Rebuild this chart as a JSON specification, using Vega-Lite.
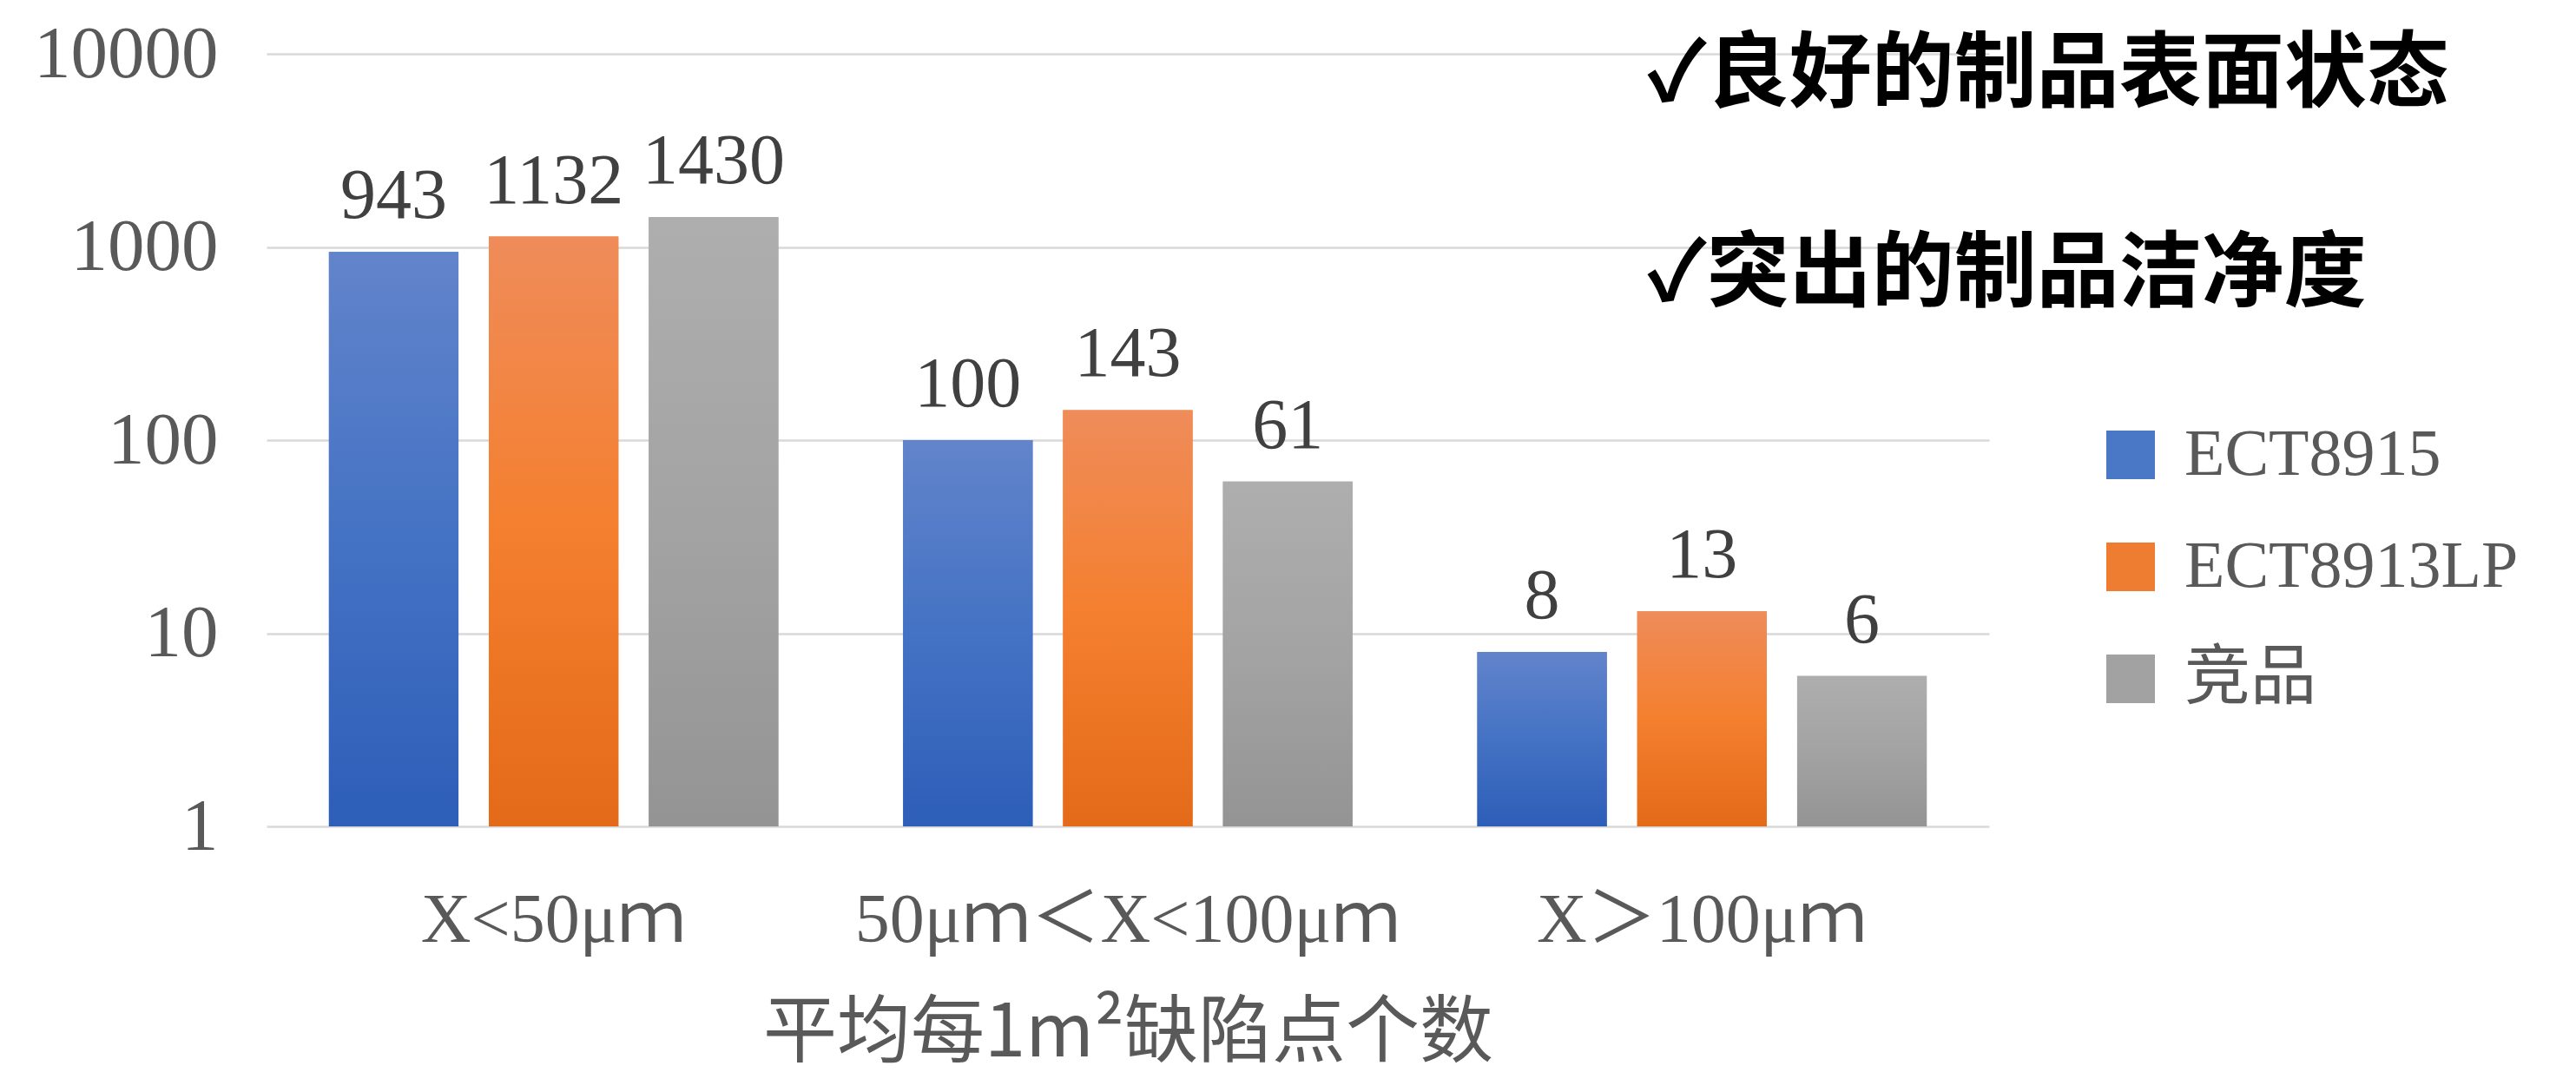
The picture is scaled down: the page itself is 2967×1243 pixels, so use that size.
{
  "$schema": "https://vega.github.io/schema/vega-lite/v6.json",
  "width": 1984,
  "height": 890,
  "autosize": {"type": "none"},
  "padding": {"left": 307, "top": 62, "right": 676, "bottom": 291},
  "background": "white",
  "config": {"view": {"stroke": null}},
  "title": {
    "text": ["✓良好的制品表面状态", "✓突出的制品洁净度"],
    "font": "Noto Sans CJK SC",
    "fontSize": 95,
    "fontWeight": "bold",
    "color": "#000000",
    "lineHeight": 230,
    "frame": "group",
    "anchor": "start",
    "orient": "top",
    "baseline": "top",
    "offset": 0,
    "limit": 0,
    "dx": 1590,
    "dy": 346
  },
  "data": {
    "values": [
      {"size": "X<50μｍ", "product": "ECT8915", "count": 943},
      {"size": "X<50μｍ", "product": "ECT8913LP", "count": 1132},
      {"size": "X<50μｍ", "product": "竞品", "count": 1430},
      {"size": "50μｍ＜X<100μｍ", "product": "ECT8915", "count": 100},
      {"size": "50μｍ＜X<100μｍ", "product": "ECT8913LP", "count": 143},
      {"size": "50μｍ＜X<100μｍ", "product": "竞品", "count": 61},
      {"size": "X＞100μｍ", "product": "ECT8915", "count": 8},
      {"size": "X＞100μｍ", "product": "ECT8913LP", "count": 13},
      {"size": "X＞100μｍ", "product": "竞品", "count": 6}
    ]
  },
  "encoding": {
    "x": {
      "field": "size",
      "type": "nominal",
      "sort": ["X<50μｍ", "50μｍ＜X<100μｍ", "X＞100μｍ"],
      "scale": {"paddingInner": 0, "paddingOuter": 0},
      "axis": {
        "title": "平均每1m²缺陷点个数",
        "titleFont": "Noto Sans CJK SC",
        "titleFontSize": 85,
        "titleFontWeight": "normal",
        "titleColor": "#595959",
        "titleBaseline": "middle",
        "titleY": 238,
        "labelAngle": 0,
        "labelLimit": 0,
        "labelFont": "Liberation Serif, Noto Sans CJK SC",
        "labelFontSize": 80,
        "labelColor": "#595959",
        "labelBaseline": "middle",
        "labelPadding": 108,
        "ticks": false,
        "tickSize": 0,
        "domain": false,
        "grid": false
      }
    },
    "xOffset": {
      "field": "product",
      "type": "nominal",
      "sort": ["ECT8915", "ECT8913LP", "竞品"],
      "scale": {"domain": ["ECT8915", "ECT8913LP", "竞品"], "paddingInner": 0.19, "paddingOuter": 0.39}
    },
    "y": {
      "field": "count",
      "type": "quantitative",
      "scale": {"type": "log", "domain": [1, 10000]},
      "axis": {
        "title": null,
        "values": [1, 10, 100, 1000, 10000],
        "format": "d",
        "labelLimit": 0,
        "labelFont": "Liberation Serif",
        "labelFontSize": 85,
        "labelColor": "#595959",
        "labelPadding": 56,
        "ticks": false,
        "tickSize": 0,
        "domain": false,
        "grid": true,
        "gridColor": "#d9d9d9",
        "gridWidth": 2.5
      }
    }
  },
  "layer": [
    {
      "mark": {"type": "bar"},
      "encoding": {
        "y2": {"datum": 1},
        "color": {
          "field": "product",
          "type": "nominal",
          "sort": ["ECT8915", "ECT8913LP", "竞品"],
          "scale": {
            "domain": ["ECT8915", "ECT8913LP", "竞品"],
            "range": ["#4a77c6", "#ee7d32", "#a2a2a2"]
          },
          "legend": {
            "title": null,
            "orient": "none",
            "legendX": 2109,
            "legendY": 424,
            "symbolType": "square",
            "symbolSize": 3136,
            "symbolStrokeWidth": 0,
            "symbolOpacity": 1,
            "labelLimit": 0,
            "labelFont": "Liberation Serif, Noto Sans CJK SC",
            "labelFontSize": 76,
            "labelColor": "#595959",
            "labelOffset": 24,
            "rowPadding": 53
          }
        }
      }
    },
    {
      "transform": [{"filter": "datum.product === 'ECT8915'"}],
      "mark": {"type": "bar", "color": {"gradient": "linear", "x1": 0, "y1": 0, "x2": 0, "y2": 1, "stops": [{"offset": 0, "color": "#6284cb"}, {"offset": 0.5, "color": "#4472c4"}, {"offset": 1, "color": "#2d5eb8"}]}},
      "encoding": {"y2": {"datum": 1}}
    },
    {
      "transform": [{"filter": "datum.product === 'ECT8913LP'"}],
      "mark": {"type": "bar", "color": {"gradient": "linear", "x1": 0, "y1": 0, "x2": 0, "y2": 1, "stops": [{"offset": 0, "color": "#ef8c5a"}, {"offset": 0.5, "color": "#f47f2e"}, {"offset": 1, "color": "#e36a19"}]}},
      "encoding": {"y2": {"datum": 1}}
    },
    {
      "transform": [{"filter": "datum.product === '竞品'"}],
      "mark": {"type": "bar", "color": {"gradient": "linear", "x1": 0, "y1": 0, "x2": 0, "y2": 1, "stops": [{"offset": 0, "color": "#aeaeae"}, {"offset": 0.5, "color": "#a3a3a3"}, {"offset": 1, "color": "#949494"}]}},
      "encoding": {"y2": {"datum": 1}}
    },
    {
      "mark": {
        "type": "text",
        "baseline": "alphabetic",
        "dy": -39,
        "font": "Liberation Serif",
        "fontSize": 82,
        "color": "#404040"
      },
      "encoding": {
        "text": {"field": "count", "type": "quantitative"}
      }
    }
  ]
}
